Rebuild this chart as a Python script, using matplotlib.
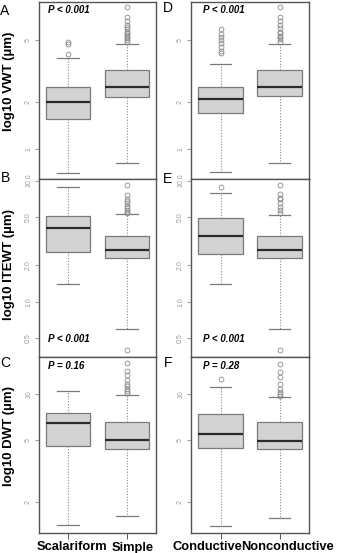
import matplotlib
matplotlib.use('Agg')
import matplotlib.pyplot as plt
from matplotlib.ticker import FixedLocator, NullLocator

plt.rcParams['font.family'] = ['Liberation Sans', 'DejaVu Sans']

# groups
plate_groups = ['Scalariform', 'Simple']
func_groups = ['Conductive', 'Nonconductive']

# box summaries per group: [whisker low, q1, median, q3, whisker high]
vwt_plate = [[0.70, 1.56, 2.00, 2.50, 3.83], [0.81, 2.15, 2.50, 3.21, 4.71]]
vwt_plate_out = [[4.06, 4.70, 4.85],
                 [8.10, 7.05, 6.64, 6.24, 6.03, 5.85, 5.65, 5.52, 5.38, 5.25, 5.13, 5.00, 4.87]]
vwt_func = [[0.71, 1.70, 2.09, 2.50, 3.51], [0.81, 2.19, 2.50, 3.21, 4.71]]
vwt_func_out = [[4.10, 4.27, 4.51, 4.76, 5.00, 5.22, 5.46, 5.85],
                [8.10, 7.05, 6.64, 6.24, 5.94, 5.65, 5.52, 5.30, 5.20, 5.04, 4.87]]

itewt_plate = [[1.40, 2.59, 4.04, 5.14, 8.90], [0.60, 2.30, 2.69, 3.47, 5.27]]
itewt_plate_out = [[],
                   [0.40, 9.21, 7.62, 7.02, 6.79, 6.50, 6.18, 5.91, 5.73, 5.54, 5.38]]
itewt_func = [[1.40, 2.46, 3.49, 4.94, 7.95], [0.60, 2.30, 2.66, 3.47, 5.17]]
itewt_func_out = [[8.90],
                  [0.40, 9.21, 7.72, 7.24, 7.02, 6.50, 6.10, 5.73, 5.44]]

dwt_plate = [[1.41, 4.59, 6.50, 7.54, 10.4], [1.62, 4.38, 5.00, 6.59, 9.90]]
dwt_plate_out = [[],
                 [15.8, 14.0, 13.2, 12.2, 11.6, 11.2, 10.8, 10.4, 10.1]]
dwt_func = [[1.39, 4.46, 5.46, 7.43, 11.0], [1.58, 4.37, 4.96, 6.53, 9.50]]
dwt_func_out = [[12.5],
                [15.7, 13.8, 12.9, 11.5, 10.8, 10.2, 10.0, 9.75]]

p_plate = ['P < 0.001', 'P < 0.001', 'P = 0.16']
p_func = ['P < 0.001', 'P < 0.001', 'P = 0.28']

ylabels = ['log10 VWT (µm)', 'log10 ITEWT (µm)', 'log10 DWT (µm)']
yticks = [[1, 2, 5], [0.5, 1.0, 2.0, 5.0, 10.0], [2, 5, 10]]
yticklabels = [['1', '2', '5'], ['0.5', '1.0', '2.0', '5.0', '10.0'], ['2', '5', '10']]
ylims = [(0.64, 8.75), (0.349, 10.3), (1.26, 17.3)]
letters = [['A', 'B', 'C'], ['D', 'E', 'F']]

W, H = 337, 553
fig = plt.figure(figsize=(W / 100, H / 100), dpi=100)

def px_axes(x0, y0, x1, y1):
    return fig.add_axes([x0 / W, 1 - y1 / H, (x1 - x0) / W, (y1 - y0) / H])

def make_stats(summ, outs, names):
    stats = []
    for s, o, n in zip(summ, outs, names):
        stats.append(dict(whislo=s[0], q1=s[1], med=s[2], q3=s[3], whishi=s[4],
                          fliers=o, label=n))
    return stats

rows = [(2, 179), (179, 357), (357, 533)]
cols = [(39, 156), (191, 309)]
col_data = [
    [(vwt_plate, vwt_plate_out), (itewt_plate, itewt_plate_out), (dwt_plate, dwt_plate_out)],
    [(vwt_func, vwt_func_out), (itewt_func, itewt_func_out), (dwt_func, dwt_func_out)],
]
col_names = [plate_groups, func_groups]
col_p = [p_plate, p_func]
p_x = [0.08, 0.10]
p_y = [0.955, 0.10, 0.95]
ylab_y = [81, 264, 436]
letter_y = [[11, 178, 363], [8, 179, 363]]
letter_x = [5, 168]
# x label centres (pixels), shifted apart so they do not collide
xlab_x = [[71.5, 133], [207, 287.5]]

for c, (x0, x1) in enumerate(cols):
    for r, (y0, y1) in enumerate(rows):
        ax = px_axes(x0, y0, x1, y1)
        summ, outs = col_data[c][r]
        ax.bxp(make_stats(summ, outs, col_names[c]), positions=[1, 2], widths=0.75,
               patch_artist=True, showfliers=True,
               boxprops=dict(facecolor='#d3d3d3', edgecolor='#7a7a7a', linewidth=0.9),
               medianprops=dict(color='#2b2b2b', linewidth=1.6),
               whiskerprops=dict(color='#8a8a8a', linestyle=(0, (1, 1.5)), linewidth=0.8),
               capprops=dict(color='#7a7a7a', linewidth=0.9),
               capwidths=0.37,
               flierprops=dict(marker='o', markerfacecolor='none', markeredgecolor='#8a8a8a',
                               markersize=3.5, markeredgewidth=0.6))
        ax.set_yscale('log')
        ax.set_ylim(*ylims[r])
        ax.set_xlim(0.5, 2.5)
        ax.yaxis.set_major_locator(FixedLocator(yticks[r]))
        ax.yaxis.set_minor_locator(NullLocator())
        ax.set_yticklabels(yticklabels[r], rotation=90, va='center', fontsize=5, color='#9a9a9a')
        ax.tick_params(axis='y', length=3, width=0.6, color='#8a8a8a', pad=2)
        for sp in ax.spines.values():
            sp.set_color('#555555')
            sp.set_linewidth(1.0)
        if r == 2:
            ax.set_xticks([1, 2])
            ax.set_xticklabels(['', ''])
            ax.tick_params(axis='x', length=4, width=0.7, color='#555555')
            for k, name in enumerate(col_names[c]):
                fig.text(xlab_x[c][k] / W, 1 - 550.5 / H, name, fontsize=9.3,
                         fontweight='bold', ha='center', va='baseline')
        else:
            ax.set_xticks([])
        ax.text(p_x[c], p_y[r], col_p[c][r], transform=ax.transAxes, fontsize=7,
                fontweight='bold', style='italic', va='center', ha='left')
        fig.text(letter_x[c] / W, 1 - letter_y[c][r] / H, letters[c][r], fontsize=10,
                 ha='center', va='center')
        if c == 0:
            fig.text(9 / W, 1 - ylab_y[r] / H, ylabels[r], rotation=90, fontsize=9.5,
                     fontweight='bold', ha='center', va='center')

fig.savefig('out.png', dpi=100)
